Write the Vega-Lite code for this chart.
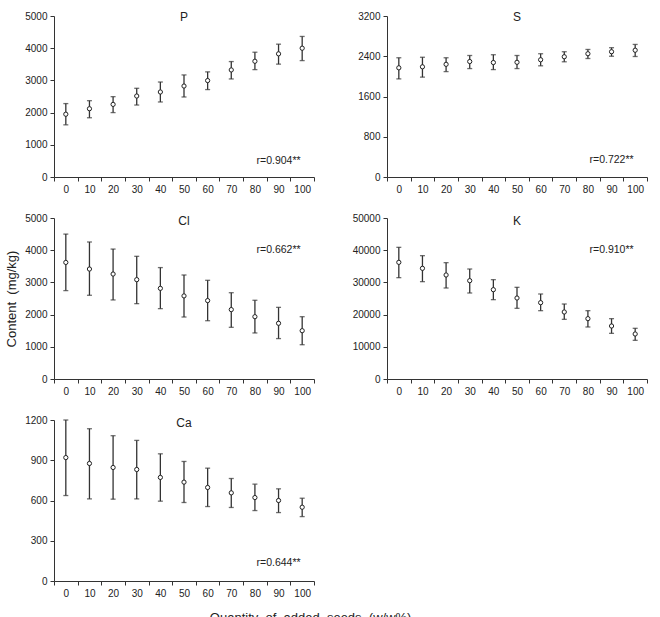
{
  "$schema": "https://vega.github.io/schema/vega-lite/v6.json",
  "padding": {"left": 5, "top": 10, "right": 5, "bottom": 5},
  "background": "white",
  "title": {"text": "Quantity\u00a0 of\u00a0 added\u00a0 seeds\u00a0 (w/w%)", "orient": "bottom", "anchor": "middle", "fontSize": 13, "fontWeight": "normal", "color": "#222", "offset": 14, "dx": -16},
  "data": {"values": [
    {"el":"P","q":0,"mean":1950,"lo":1620,"hi":2280},
    {"el":"P","q":10,"mean":2120,"lo":1840,"hi":2370},
    {"el":"P","q":20,"mean":2255,"lo":2000,"hi":2495},
    {"el":"P","q":30,"mean":2515,"lo":2235,"hi":2755},
    {"el":"P","q":40,"mean":2640,"lo":2330,"hi":2950},
    {"el":"P","q":50,"mean":2825,"lo":2485,"hi":3170},
    {"el":"P","q":60,"mean":2995,"lo":2715,"hi":3265},
    {"el":"P","q":70,"mean":3325,"lo":3045,"hi":3585},
    {"el":"P","q":80,"mean":3595,"lo":3335,"hi":3875},
    {"el":"P","q":90,"mean":3825,"lo":3505,"hi":4125},
    {"el":"P","q":100,"mean":4000,"lo":3615,"hi":4365},
    {"el":"S","q":0,"mean":2170,"lo":1950,"hi":2370},
    {"el":"S","q":10,"mean":2190,"lo":1985,"hi":2380},
    {"el":"S","q":20,"mean":2240,"lo":2095,"hi":2370},
    {"el":"S","q":30,"mean":2295,"lo":2155,"hi":2415},
    {"el":"S","q":40,"mean":2275,"lo":2135,"hi":2430},
    {"el":"S","q":50,"mean":2280,"lo":2155,"hi":2415},
    {"el":"S","q":60,"mean":2330,"lo":2210,"hi":2450},
    {"el":"S","q":70,"mean":2390,"lo":2290,"hi":2490},
    {"el":"S","q":80,"mean":2450,"lo":2355,"hi":2535},
    {"el":"S","q":90,"mean":2490,"lo":2400,"hi":2570},
    {"el":"S","q":100,"mean":2520,"lo":2395,"hi":2635},
    {"el":"Cl","q":0,"mean":3620,"lo":2745,"hi":4500},
    {"el":"Cl","q":10,"mean":3415,"lo":2600,"hi":4255},
    {"el":"Cl","q":20,"mean":3260,"lo":2455,"hi":4035},
    {"el":"Cl","q":30,"mean":3085,"lo":2340,"hi":3810},
    {"el":"Cl","q":40,"mean":2815,"lo":2185,"hi":3460},
    {"el":"Cl","q":50,"mean":2580,"lo":1925,"hi":3230},
    {"el":"Cl","q":60,"mean":2435,"lo":1810,"hi":3065},
    {"el":"Cl","q":70,"mean":2155,"lo":1605,"hi":2680},
    {"el":"Cl","q":80,"mean":1935,"lo":1430,"hi":2445},
    {"el":"Cl","q":90,"mean":1730,"lo":1255,"hi":2225},
    {"el":"Cl","q":100,"mean":1500,"lo":1065,"hi":1935},
    {"el":"K","q":0,"mean":36230,"lo":31470,"hi":40890},
    {"el":"K","q":10,"mean":34370,"lo":30230,"hi":38300},
    {"el":"K","q":20,"mean":32300,"lo":28260,"hi":36130},
    {"el":"K","q":30,"mean":30540,"lo":26710,"hi":34160},
    {"el":"K","q":40,"mean":27740,"lo":24640,"hi":30850},
    {"el":"K","q":50,"mean":25150,"lo":21950,"hi":28470},
    {"el":"K","q":60,"mean":23710,"lo":21220,"hi":26400},
    {"el":"K","q":70,"mean":20810,"lo":18530,"hi":23290},
    {"el":"K","q":80,"mean":18740,"lo":16150,"hi":21220},
    {"el":"K","q":90,"mean":16460,"lo":14180,"hi":18740},
    {"el":"K","q":100,"mean":13980,"lo":12010,"hi":15740},
    {"el":"Ca","q":0,"mean":920,"lo":637,"hi":1200},
    {"el":"Ca","q":10,"mean":876,"lo":612,"hi":1135},
    {"el":"Ca","q":20,"mean":846,"lo":610,"hi":1083},
    {"el":"Ca","q":30,"mean":831,"lo":612,"hi":1048},
    {"el":"Ca","q":40,"mean":772,"lo":595,"hi":948},
    {"el":"Ca","q":50,"mean":737,"lo":585,"hi":891},
    {"el":"Ca","q":60,"mean":697,"lo":555,"hi":841},
    {"el":"Ca","q":70,"mean":657,"lo":548,"hi":764},
    {"el":"Ca","q":80,"mean":622,"lo":525,"hi":722},
    {"el":"Ca","q":90,"mean":600,"lo":510,"hi":687},
    {"el":"Ca","q":100,"mean":550,"lo":480,"hi":617}
  ]},
  "columns": 2,
  "spacing": {"row": 41, "column": 73},
  "bounds": "flush",
  "concat": [
    {
      "width": 260, "height": 161,
      "layer": [
        {
          "transform": [{"filter": "datum.el === 'P'"}],
          "encoding": {
            "x": {"field": "q", "type": "ordinal", "scale": {"type": "band", "paddingInner": 0, "paddingOuter": 0}, "axis": {"title": null, "labelAngle": 0, "tickBand": "extent"}},
            "y": {"field": "lo", "type": "quantitative", "scale": {"domain": [0, 5000], "nice": false}, "axis": {"values": [0, 1000, 2000, 3000, 4000, 5000], "tickCount": 12, "format": "d", "title": null}}
          },
          "layer": [
            {"mark": {"type": "rule", "color": "#333", "strokeWidth": 1.3}, "encoding": {"y2": {"field": "hi"}}},
            {"mark": {"type": "tick", "orient": "horizontal", "size": 5, "thickness": 1.3, "color": "#333"}},
            {"mark": {"type": "tick", "orient": "horizontal", "size": 5, "thickness": 1.3, "color": "#333"}, "encoding": {"y": {"field": "hi", "type": "quantitative"}}},
            {"mark": {"type": "point", "shape": "circle", "filled": true, "fill": "white", "stroke": "#222", "strokeWidth": 1, "size": 18, "opacity": 1}, "encoding": {"y": {"field": "mean", "type": "quantitative"}}}
          ]
        },
        {"data": {"values": [{}]}, "mark": {"type": "text", "text": "P", "fontSize": 12, "color": "#222"}, "encoding": {"x": {"datum": 50, "type": "ordinal"}, "y": {"datum": 4970, "type": "quantitative"}}},
        {"data": {"values": [{}]}, "mark": {"type": "text", "text": "r=0.904**", "fontSize": 10.5, "color": "#222"}, "encoding": {"x": {"datum": 90, "type": "ordinal"}, "y": {"datum": 500, "type": "quantitative"}}}
      ]
    },
    {
      "width": 260, "height": 161,
      "layer": [
        {
          "transform": [{"filter": "datum.el === 'S'"}],
          "encoding": {
            "x": {"field": "q", "type": "ordinal", "scale": {"type": "band", "paddingInner": 0, "paddingOuter": 0}, "axis": {"title": null, "labelAngle": 0, "tickBand": "extent"}},
            "y": {"field": "lo", "type": "quantitative", "scale": {"domain": [0, 3200], "nice": false}, "axis": {"values": [0, 800, 1600, 2400, 3200], "tickCount": 12, "format": "d", "title": null}}
          },
          "layer": [
            {"mark": {"type": "rule", "color": "#333", "strokeWidth": 1.3}, "encoding": {"y2": {"field": "hi"}}},
            {"mark": {"type": "tick", "orient": "horizontal", "size": 5, "thickness": 1.3, "color": "#333"}},
            {"mark": {"type": "tick", "orient": "horizontal", "size": 5, "thickness": 1.3, "color": "#333"}, "encoding": {"y": {"field": "hi", "type": "quantitative"}}},
            {"mark": {"type": "point", "shape": "circle", "filled": true, "fill": "white", "stroke": "#222", "strokeWidth": 1, "size": 18, "opacity": 1}, "encoding": {"y": {"field": "mean", "type": "quantitative"}}}
          ]
        },
        {"data": {"values": [{}]}, "mark": {"type": "text", "text": "S", "fontSize": 12, "color": "#222"}, "encoding": {"x": {"datum": 50, "type": "ordinal"}, "y": {"datum": 3180, "type": "quantitative"}}},
        {"data": {"values": [{}]}, "mark": {"type": "text", "text": "r=0.722**", "fontSize": 10.5, "color": "#222"}, "encoding": {"x": {"datum": 90, "type": "ordinal"}, "y": {"datum": 340, "type": "quantitative"}}}
      ]
    },
    {
      "width": 260, "height": 161,
      "layer": [
        {
          "transform": [{"filter": "datum.el === 'Cl'"}],
          "encoding": {
            "x": {"field": "q", "type": "ordinal", "scale": {"type": "band", "paddingInner": 0, "paddingOuter": 0}, "axis": {"title": null, "labelAngle": 0, "tickBand": "extent"}},
            "y": {"field": "lo", "type": "quantitative", "scale": {"domain": [0, 5000], "nice": false}, "axis": {"values": [0, 1000, 2000, 3000, 4000, 5000], "tickCount": 12, "format": "d", "title": "Content\u00a0 (mg/kg)", "titlePadding": 6}}
          },
          "layer": [
            {"mark": {"type": "rule", "color": "#333", "strokeWidth": 1.3}, "encoding": {"y2": {"field": "hi"}}},
            {"mark": {"type": "tick", "orient": "horizontal", "size": 5, "thickness": 1.3, "color": "#333"}},
            {"mark": {"type": "tick", "orient": "horizontal", "size": 5, "thickness": 1.3, "color": "#333"}, "encoding": {"y": {"field": "hi", "type": "quantitative"}}},
            {"mark": {"type": "point", "shape": "circle", "filled": true, "fill": "white", "stroke": "#222", "strokeWidth": 1, "size": 18, "opacity": 1}, "encoding": {"y": {"field": "mean", "type": "quantitative"}}}
          ]
        },
        {"data": {"values": [{}]}, "mark": {"type": "text", "text": "Cl", "fontSize": 12, "color": "#222"}, "encoding": {"x": {"datum": 50, "type": "ordinal"}, "y": {"datum": 4900, "type": "quantitative"}}},
        {"data": {"values": [{}]}, "mark": {"type": "text", "text": "r=0.662**", "fontSize": 10.5, "color": "#222"}, "encoding": {"x": {"datum": 90, "type": "ordinal"}, "y": {"datum": 4000, "type": "quantitative"}}}
      ]
    },
    {
      "width": 260, "height": 161,
      "layer": [
        {
          "transform": [{"filter": "datum.el === 'K'"}],
          "encoding": {
            "x": {"field": "q", "type": "ordinal", "scale": {"type": "band", "paddingInner": 0, "paddingOuter": 0}, "axis": {"title": null, "labelAngle": 0, "tickBand": "extent"}},
            "y": {"field": "lo", "type": "quantitative", "scale": {"domain": [0, 50000], "nice": false}, "axis": {"values": [0, 10000, 20000, 30000, 40000, 50000], "tickCount": 12, "format": "d", "title": null}}
          },
          "layer": [
            {"mark": {"type": "rule", "color": "#333", "strokeWidth": 1.3}, "encoding": {"y2": {"field": "hi"}}},
            {"mark": {"type": "tick", "orient": "horizontal", "size": 5, "thickness": 1.3, "color": "#333"}},
            {"mark": {"type": "tick", "orient": "horizontal", "size": 5, "thickness": 1.3, "color": "#333"}, "encoding": {"y": {"field": "hi", "type": "quantitative"}}},
            {"mark": {"type": "point", "shape": "circle", "filled": true, "fill": "white", "stroke": "#222", "strokeWidth": 1, "size": 18, "opacity": 1}, "encoding": {"y": {"field": "mean", "type": "quantitative"}}}
          ]
        },
        {"data": {"values": [{}]}, "mark": {"type": "text", "text": "K", "fontSize": 12, "color": "#222"}, "encoding": {"x": {"datum": 50, "type": "ordinal"}, "y": {"datum": 49000, "type": "quantitative"}}},
        {"data": {"values": [{}]}, "mark": {"type": "text", "text": "r=0.910**", "fontSize": 10.5, "color": "#222"}, "encoding": {"x": {"datum": 90, "type": "ordinal"}, "y": {"datum": 40000, "type": "quantitative"}}}
      ]
    },
    {
      "width": 260, "height": 161,
      "layer": [
        {
          "transform": [{"filter": "datum.el === 'Ca'"}],
          "encoding": {
            "x": {"field": "q", "type": "ordinal", "scale": {"type": "band", "paddingInner": 0, "paddingOuter": 0}, "axis": {"title": null, "labelAngle": 0, "tickBand": "extent"}},
            "y": {"field": "lo", "type": "quantitative", "scale": {"domain": [0, 1200], "nice": false}, "axis": {"values": [0, 300, 600, 900, 1200], "tickCount": 12, "format": "d", "title": null}}
          },
          "layer": [
            {"mark": {"type": "rule", "color": "#333", "strokeWidth": 1.3}, "encoding": {"y2": {"field": "hi"}}},
            {"mark": {"type": "tick", "orient": "horizontal", "size": 5, "thickness": 1.3, "color": "#333"}},
            {"mark": {"type": "tick", "orient": "horizontal", "size": 5, "thickness": 1.3, "color": "#333"}, "encoding": {"y": {"field": "hi", "type": "quantitative"}}},
            {"mark": {"type": "point", "shape": "circle", "filled": true, "fill": "white", "stroke": "#222", "strokeWidth": 1, "size": 18, "opacity": 1}, "encoding": {"y": {"field": "mean", "type": "quantitative"}}}
          ]
        },
        {"data": {"values": [{}]}, "mark": {"type": "text", "text": "Ca", "fontSize": 12, "color": "#222"}, "encoding": {"x": {"datum": 50, "type": "ordinal"}, "y": {"datum": 1180, "type": "quantitative"}}},
        {"data": {"values": [{}]}, "mark": {"type": "text", "text": "r=0.644**", "fontSize": 10.5, "color": "#222"}, "encoding": {"x": {"datum": 90, "type": "ordinal"}, "y": {"datum": 135, "type": "quantitative"}}}
      ]
    }
  ],
  "config": {
    "font": "Liberation Sans",
    "view": {"stroke": null},
    "axis": {"grid": false, "labelOverlap": false, "labelFontSize": 10, "labelColor": "#222", "domainColor": "#333", "tickColor": "#333", "tickSize": 4, "labelPadding": 3, "titleFontWeight": "normal", "titleFontSize": 13, "titleColor": "#222", "labelFont": "Liberation Sans", "titleFont": "Liberation Sans"}
  }
}
